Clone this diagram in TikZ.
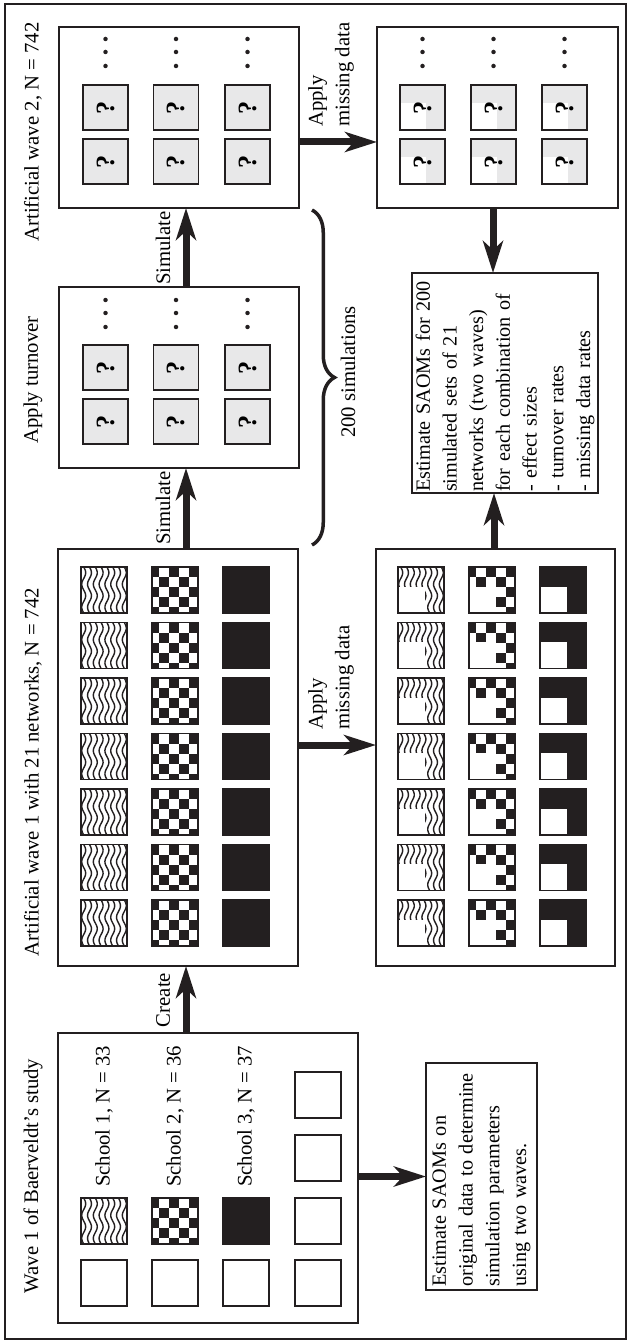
\documentclass[tikz,border=0pt]{standalone}
\usepackage{fontspec}
\setmainfont{Liberation Serif}
\usetikzlibrary{arrows.meta,decorations.pathreplacing}
\definecolor{ink}{RGB}{35,31,32}
\definecolor{qgray}{RGB}{232,232,233}
\tikzset{
  box/.style={draw=ink, line width=0.022cm, inner sep=0pt, outer sep=0pt},
  lbl/.style={rotate=90, inner sep=1pt, font=\fontsize{11.8}{15.2}\selectfont},
  txtbox/.style={box, rotate=90, align=left, inner xsep=0.02cm, inner ysep=0.02cm,
    font=\fontsize{11.5}{15.2}\selectfont},
  qmark/.style={rotate=90, inner sep=0pt, font=\fontsize{15}{15}\selectfont\bfseries},
  sqline/.style={draw=ink, line width=0.026cm},
  bigarrow/.style={draw=ink, line width=0.14cm,
    -{Stealth[length=0.64cm, width=0.4cm, inset=0.18cm]}},
  emptysq/.pic={\draw[sqline, fill=white] (-23,-23) rectangle (23,23);},
  blksq/.pic={\draw[sqline, fill=ink] (-23,-23) rectangle (23,23);},
  wavesq/.pic={
    \fill[white] (-23,-23) rectangle (23,23);
    \begin{scope}
      \clip (-23,-23) rectangle (23,23);
      \foreach \k in {-3.5,-2.5,...,3.5}
        \draw[ink, line width=0.028cm] plot[domain=-26:26, samples=27, smooth, variable=\t]
          ({\k*5.8+2*sin(\t*360/23)}, \t);
    \end{scope}
    \draw[sqline] (-23,-23) rectangle (23,23);
  },
  chksq/.pic={
    \fill[white] (-23,-23) rectangle (23,23);
    \begin{scope}
      \clip (-23,-23) rectangle (23,23);
      \foreach \i in {0,...,4}
        \foreach \j in {0,...,4}{
          \pgfmathtruncatemacro\cellodd{mod(\i+\j,2)}
          \ifnum\cellodd=0 \fill[ink] ({-26+10*\i},{-23+10*\j}) rectangle ++(10,10); \fi
        }
    \end{scope}
    \draw[sqline] (-23,-23) rectangle (23,23);
  },
  gapsq/.pic={
    \fill[white] (-23,-3.5) rectangle (4,23);
    \draw[sqline] (-23,-23) rectangle (23,23);
  },
  qsq/.pic={
    \fill[qgray] (-22.5,-22.5) rectangle (22.5,22.5);
    \node[qmark] (-mark) {?};
    \draw[sqline] (-22.5,-22.5) rectangle (22.5,22.5);
  },
  qgapsq/.pic={
    \fill[qgray] (-22.5,-22.5) rectangle (22.5,22.5);
    \fill[white] (-22.5,-4.5) rectangle (3.5,22.5);
    \node[qmark] (-mark) {?};
    \draw[sqline] (-22.5,-22.5) rectangle (22.5,22.5);
  },
}
\begin{document}
\begin{tikzpicture}[x=0.02cm, y=-0.02cm]
\useasboundingbox (0,0) rectangle (630,1341);
% outer frame
\draw[ink, line width=0.028cm] (5,4) rectangle (626,1339);

% boxes
\node[box, minimum width=6cm, minimum height=5.8cm] (baer) at (208,1178) {};
\node[box, minimum width=4.8cm, minimum height=8.34cm] (artone) at (178,757.5) {};
\node[box, minimum width=4.8cm, minimum height=3.62cm] (turn) at (179,377.5) {};
\node[box, minimum width=4.8cm, minimum height=3.62cm] (arttwo) at (179,117.5) {};
\node[box, minimum width=4.82cm, minimum height=3.62cm] (misstwo) at (497.5,117.5) {};
\node[box, minimum width=4.78cm, minimum height=8.34cm] (missone) at (495.5,757.5) {};

% box titles
\node[lbl] (baertitle) at (33,1176) {Wave 1 of Baerveldt's study};
\node[lbl] (artonetitle) at (33,772) {Artificial wave 1 with 21 networks, N = 742};
\node[lbl] (turntitle) at (33,380) {Apply turnover};
\node[lbl] (arttwotitle) at (33,132) {Artificial wave 2, N = 742};

% text boxes
\node[txtbox, minimum width=4.4cm, minimum height=3.72cm, text width=4.36cm] (estsim) at (505,383)
  {Estimate SAOMs for 200\\ simulated sets of 21\\ networks (two waves)\\ for each combination of\\
   - effect sizes\\ - turnover rates\\ - missing data rates};
\node[txtbox, minimum width=4.54cm, minimum height=2.22cm, text width=4.4cm] (estorig) at (481.5,1176.5)
  {Estimate SAOMs on\\ original data to determine\\ simulation parameters\\ using two waves.};

% schools in the original data
\pic at (104,1283) {emptysq};
\pic at (175,1283) {emptysq};
\pic at (246,1283) {emptysq};
\pic at (104,1221) {wavesq};
\pic at (175,1221) {chksq};
\pic at (246,1221) {blksq};
\foreach \y in {1283,1221,1158,1095}
  \pic at (318,\y) {emptysq};
\node[lbl, anchor=west] (schoolone) at (104,1189) {School 1, N = 33};
\node[lbl, anchor=west] (schooltwo) at (175,1189) {School 2, N = 36};
\node[lbl, anchor=west] (schoolthree) at (246,1189) {School 3, N = 37};

% 21 networks, complete and with missing data
\foreach \r in {0,...,6}{
  \pic at (104,{590+55.5*\r}) {wavesq};
  \pic at (175,{590+55.5*\r}) {chksq};
  \pic at (246,{590+55.5*\r}) {blksq};
  \pic at (421,{590+55.5*\r}) {wavesq};
  \pic at (421,{590+55.5*\r}) {gapsq};
  \pic at (492,{590+55.5*\r}) {chksq};
  \pic at (492,{590+55.5*\r}) {gapsq};
  \pic at (563,{590+55.5*\r}) {blksq};
  \pic at (563,{590+55.5*\r}) {gapsq};
}

% simulated networks
\foreach \x [count=\c] in {105.5,176,247.5}{
  \pic (tq\c a) at (\x,367.5) {qsq};
  \pic (tq\c b) at (\x,421.5) {qsq};
  \pic (wq\c a) at (\x,107.5) {qsq};
  \pic (wq\c b) at (\x,161.5) {qsq};
  \foreach \y in {300,313,327} \fill[ink] (\x,\y) circle[radius=0.045cm];
  \foreach \y in {39,52,66} \fill[ink] (\x,\y) circle[radius=0.045cm];
}
\foreach \x [count=\c] in {422.5,493.5,564.5}{
  \pic (mq\c a) at (\x,107.5) {qgapsq};
  \pic (mq\c b) at (\x,161.5) {qgapsq};
  \foreach \y in {39,52,66} \fill[ink] (\x,\y) circle[radius=0.045cm];
}

% arrows
\draw[bigarrow] (baer.north -| 186,0) -- (artone.south -| 186,0);
\draw[bigarrow] (artone.north -| 186,0) -- (turn.south -| 186,0);
\draw[bigarrow] (turn.north -| 186,0) -- (arttwo.south -| 186,0);
\draw[bigarrow] (arttwo.east |- 0,142) -- (misstwo.west |- 0,142);
\draw[bigarrow] (artone.east |- 0,745) -- (missone.west |- 0,745);
\draw[bigarrow] (misstwo.south -| 493,0) -- (estsim.east -| 493,0);
\draw[bigarrow] (missone.north -| 494,0) -- (estsim.west -| 494,0);
\draw[bigarrow] (baer.east |- estorig.north) -- (estorig.north);

% arrow labels
\node[lbl] (createlbl) at (163,1000) {Create};
\node[lbl] (simlblone) at (163,508) {Simulate};
\node[lbl] (simlbltwo) at (163,248) {Simulate};
\node[lbl, anchor=west, align=left] (applytwo) at (331,129) {Apply\\ missing data};
\node[lbl, anchor=west, align=left] (applyone) at (331,732) {Apply\\ missing data};

% brace over the simulations
\coordinate (btop) at (312,210);
\coordinate (bbot) at (312,545);
\draw[ink, line width=0.07cm, decorate, decoration={brace, amplitude=0.45cm}] (btop) -- (bbot);
\node[lbl] (simcount) at (348,372) {200 simulations};
\end{tikzpicture}
\end{document}
